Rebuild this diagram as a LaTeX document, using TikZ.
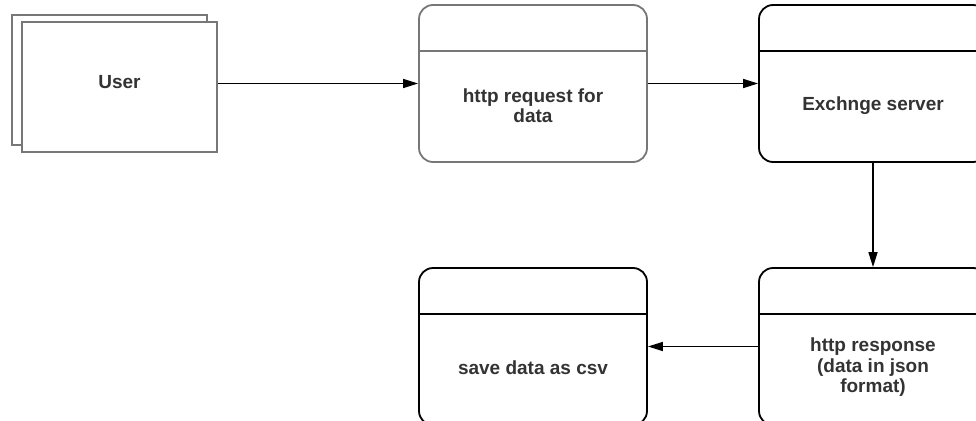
\documentclass[tikz,border=0pt]{standalone}
\usepackage{fontspec}
\setmainfont{Liberation Sans}
\usetikzlibrary{arrows.meta,positioning}
\definecolor{boxgrey}{HTML}{777777}
\definecolor{txtgrey}{HTML}{333333}

\begin{document}
\begin{tikzpicture}[x=1pt, y=-1pt,
  stepbox/.style={draw, line width=1.8pt, rounded corners=14pt, fill=white,
    minimum width=228pt, minimum height=157pt},
  userbox/.style={draw=boxgrey, line width=1.8pt, fill=white,
    minimum width=195pt, minimum height=130pt},
  lbl/.style={text=txtgrey, align=center, font=\fontsize{19}{20.5}\selectfont\bfseries},
  arr/.style={-{Triangle[length=15pt,width=9pt]}, line width=1.5pt}]
  \useasboundingbox (0,0) rectangle (976,420);
  \clip (0,0) rectangle (976,420);

  % user, drawn as two stacked sheets
  \node[userbox] (user-back) at (109.5,80) {};
  \node[userbox] (user) at (119.5,87) {};
  \node[lbl] (user-txt) at ([yshift=5pt]user.center) {User};

  % process steps
  \node[stepbox, draw=boxgrey] (req) at (533,83.5) {};
  \node[stepbox] (exch) at (873,83.5) {};
  \node[stepbox] (resp) at (873,346.5) {};
  \node[stepbox] (save) at (533,346.5) {};
  \foreach \b/\c in {req/boxgrey, exch/black, resp/black, save/black}
    \draw[\c, line width=1.3pt] ([yshift=-47pt]\b.north west) -- ([yshift=-47pt]\b.north east);

  \node[lbl] (req-txt) at ([yshift=-22pt]req.center) {http request for\\data};
  \node[lbl] (exch-txt) at ([yshift=-22pt]exch.center) {Exchnge server};
  \node[lbl] (resp-txt) at ([yshift=-21pt]resp.center) {http response\\(data in json\\format)};
  \node[lbl] (save-txt) at ([yshift=-21pt]save.center) {save data as csv};

  \draw[arr] (user.east |- req.west) -- (req.west);
  \draw[arr] (req) -- (exch);
  \draw[arr] (exch) -- (resp);
  \draw[arr] (resp) -- (save);
\end{tikzpicture}
\end{document}
